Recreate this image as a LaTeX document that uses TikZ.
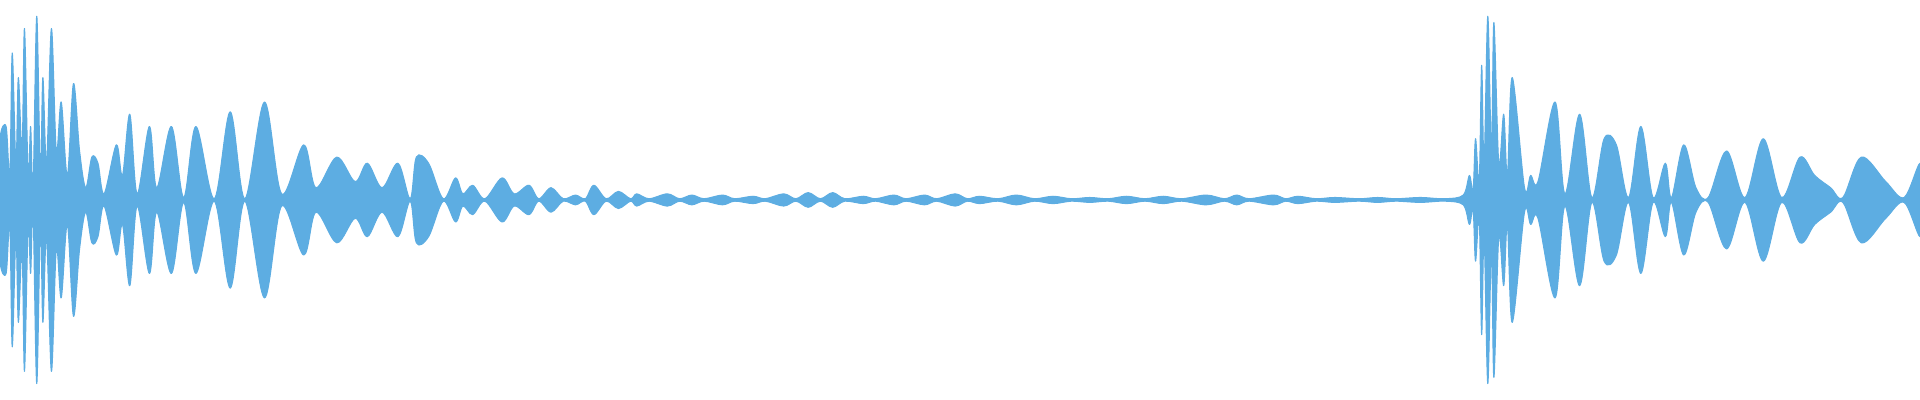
\documentclass[tikz,border=0pt]{standalone}
\begin{document}
\begin{tikzpicture}[x=0.012245cm,y=0.012245cm]
\definecolor{wave}{RGB}{93,173,226}
\tikzset{env/.style={fill=wave,draw=wave,line width=0.3pt,line join=round}}
\useasboundingbox (0,-163.3) rectangle (1568,163.3);
\def\envpts{(0,0) (0,50) (5,60) (8,20) (10,120) (13,30) (15,100) (18,40) (20,140) (23,20) (25,60) (27,10) (30,150) (33,20) (35,100) (38,30) (42,140) (46,40) (50,80) (55,20) (60,95) (65,40) (70,10) (75,35) (80,30) (85,5) (95,45) (100,20) (106,70) (112,5) (122,60) (128,10) (140,60) (150,2) (160,60) (175,1) (188,72) (200,1) (216,80) (230,5) (248,45) (258,10) (275,35) (290,15) (300,30) (312,10) (325,30) (335,1) (340,35) (350,30) (362,1) (372,18) (378,5) (386,12) (396,1) (410,18) (420,5) (432,12) (440,1) (450,10) (460,1) (470,4) (478,1) (485,12) (495,1) (505,7) (515,1) (520,5) (530,1) (545,5) (555,1) (565,4) (575,1) (590,4) (600,1) (615,3) (625,1) (640,5) (650,1) (660,6) (670,1) (680,6) (690,1) (705,3) (715,1) (730,4) (740,1) (755,4) (765,1) (780,5) (790,1) (800,3) (815,1) (830,4) (845,1) (860,3) (875,1) (890,2) (905,1) (920,3) (935,1) (950,3) (965,1) (985,4) (1000,1) (1010,4) (1020,1) (1040,4) (1050,1) (1060,3) (1075,1) (1090,2) (1110,1) (1125,2) (1140,1) (1160,2) (1180,1) (1195,4) (1200,20) (1203,8) (1205,50) (1208,15) (1210,110) (1212,30) (1215,150) (1218,40) (1220,145) (1224,30) (1228,70) (1231,20) (1235,100) (1245,10) (1250,20) (1256,15) (1270,80) (1278,5) (1290,70) (1300,2) (1310,50) (1320,45) (1330,2) (1340,60) (1350,2) (1360,30) (1365,2) (1375,45) (1385,10) (1395,2) (1410,40) (1425,2) (1440,50) (1455,2) (1470,35) (1482,20) (1495,10) (1505,2) (1520,35) (1540,15) (1555,2) (1568,30) (1568,0)}
\fill[env] plot[smooth,tension=0.55] coordinates {\envpts} -- cycle;
\begin{scope}[yscale=-1]
\fill[env] plot[smooth,tension=0.55] coordinates {\envpts} -- cycle;
\end{scope}
\draw[wave,line width=0.8pt] (0,0) -- (1568,0);
\end{tikzpicture}
\end{document}
